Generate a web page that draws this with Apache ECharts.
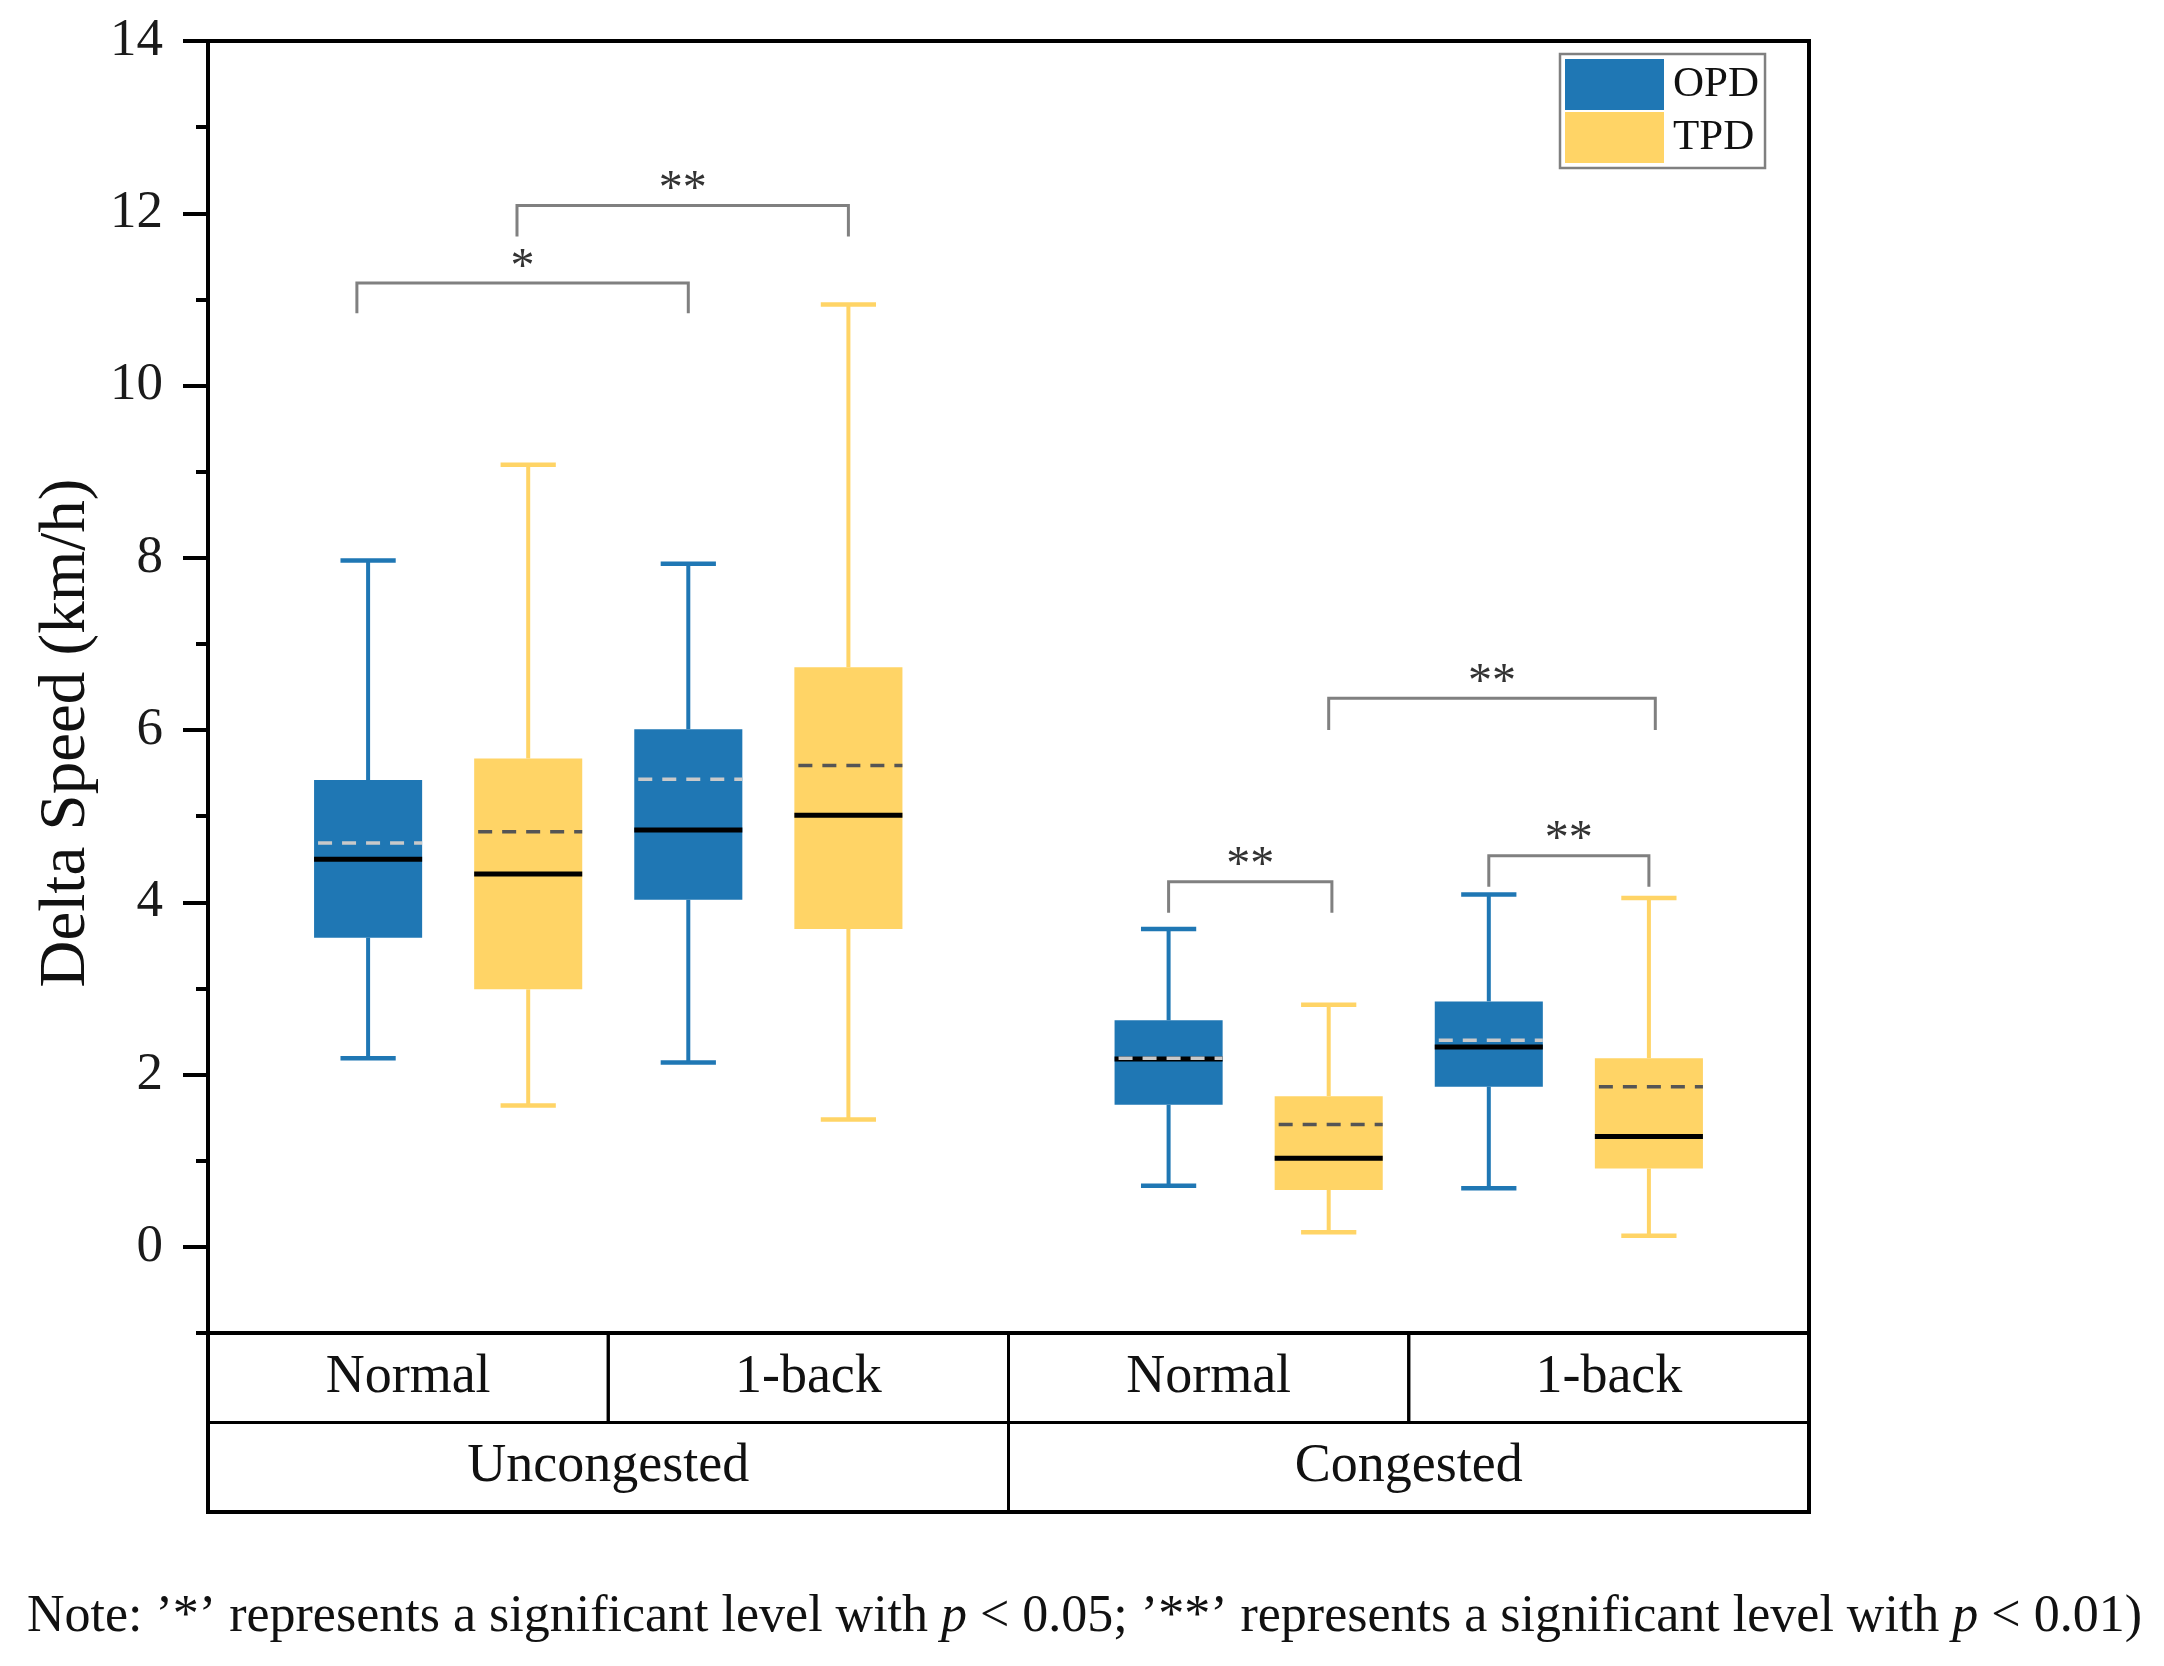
<!DOCTYPE html>
<html>
<head>
<meta charset="utf-8">
<script src="https://cdn.jsdelivr.net/npm/echarts@6/dist/echarts.min.js"></script>
<style>html,body{margin:0;padding:0;background:#fff}#c{width:2164px;height:1666px}</style>
</head>
<body>
<div id="c"></div>
<script>
// ---------- data ----------
const yTickLabels = [0, 2, 4, 6, 8, 10, 12, 14];
const yMinorTicks = [-1, 1, 3, 5, 7, 9, 11, 13];
const groups = ['Uncongested', 'Congested'];
const conditions = ['Normal', '1-back'];
const seriesNames = ['OPD', 'TPD'];
// order: Uncongested-Normal, Uncongested-1-back, Congested-Normal, Congested-1-back
const opdMin    = [2.19, 2.14, 0.71, 0.68];
const opdQ1     = [3.59, 4.03, 1.65, 1.86];
const opdMedian = [4.50, 4.84, 2.18, 2.32];
const opdQ3     = [5.42, 6.01, 2.63, 2.85];
const opdMax    = [7.97, 7.93, 3.69, 4.09];
const opdMean   = [4.69, 5.43, 2.19, 2.40];
const tpdMin    = [1.64, 1.48, 0.17, 0.13];
const tpdQ1     = [2.99, 3.69, 0.66, 0.91];
const tpdMedian = [4.33, 5.01, 1.03, 1.28];
const tpdQ3     = [5.67, 6.73, 1.75, 2.19];
const tpdMax    = [9.08, 10.94, 2.81, 4.05];
const tpdMean   = [4.82, 5.59, 1.42, 1.86];
// significance brackets (x in axis units along the box positions)
const sigX1     = [0.93, 1.93, 7.00, 6.00, 8.00];
const sigX2     = [3.00, 4.00, 9.04, 7.02, 9.00];
const sigTop    = [11.19, 12.09, 6.37, 4.24, 4.54];
const sigEnd    = [10.84, 11.73, 6.00, 3.88, 4.18];
const sigLabels = ['*', '**', '**', '**', '**'];

// ---------- layout helpers ----------
const FONT = "'Liberation Serif', 'Times New Roman', serif";
const BLUE = '#1f77b4', YELLOW = '#ffd466';
function boxX(g, c, s) { return g * 5 + c * 2 + s + 1; }

function buildBoxData(s, mn, q1, md, q3, mx, mean) {
  const out = [];
  for (let k = 0; k < 4; k++) {
    const g = Math.floor(k / 2), c = k % 2;
    out.push([boxX(g, c, s), mn[k], q1[k], md[k], q3[k], mx[k], mean[k]]);
  }
  return out;
}

function makeBoxRender(color, meanColor) {
  return function (params, api) {
    const x = api.value(0);
    const mn = api.value(1), q1 = api.value(2), md = api.value(3), q3 = api.value(4), mx = api.value(5), mean = api.value(6);
    const unit = api.size([1, 0])[0];
    const bw = unit * 0.675, cw = unit * 0.345;
    const cx = api.coord([x, md])[0];
    const yv = v => api.coord([x, v])[1];
    const L = cx - bw / 2, R = cx + bw / 2;
    return {
      type: 'group',
      children: [
        { type: 'line', shape: { x1: cx, y1: yv(q3), x2: cx, y2: yv(mx) }, style: { stroke: color, lineWidth: 4 } },
        { type: 'line', shape: { x1: cx, y1: yv(q1), x2: cx, y2: yv(mn) }, style: { stroke: color, lineWidth: 4 } },
        { type: 'line', shape: { x1: cx - cw / 2, y1: yv(mx), x2: cx + cw / 2, y2: yv(mx) }, style: { stroke: color, lineWidth: 4.5 } },
        { type: 'line', shape: { x1: cx - cw / 2, y1: yv(mn), x2: cx + cw / 2, y2: yv(mn) }, style: { stroke: color, lineWidth: 4.5 } },
        { type: 'rect', shape: { x: L, y: yv(q3), width: bw, height: yv(q1) - yv(q3) }, style: { fill: color } },
        { type: 'line', shape: { x1: L, y1: yv(md), x2: R, y2: yv(md) }, style: { stroke: '#000', lineWidth: 5 } },
        { type: 'line', shape: { x1: L + 4, y1: yv(mean), x2: R, y2: yv(mean) }, style: { stroke: meanColor, lineWidth: 3.5, lineDash: [14, 10] } }
      ]
    };
  };
}

const sigData = sigX1.map((x1, i) => [x1, sigX2[i], sigTop[i], sigEnd[i]]);

const tableLabels = conditions.concat(conditions).concat(groups);
const tableData = [];
for (let i = 0; i < 4; i++) tableData.push([i, i + 1, 1, 2]);
for (let g = 0; g < groups.length; g++) tableData.push([g * 2, g * 2 + 2, 0, 1]);

const chart = echarts.init(document.getElementById('c'));
chart.setOption({
  animation: false,
  backgroundColor: '#fff',
  title: {
    left: 22, top: 1586,
    text: '{a|Note: ’*’ represents a significant level with }{i|p}{a| < 0.05; ’**’ represents a significant level with }{i|p}{a| < 0.01)}',
    textStyle: {
      fontWeight: 'normal',
      rich: {
        a: { fontFamily: FONT, fontSize: 52, color: '#111', fontWeight: 'normal' },
        i: { fontFamily: FONT, fontSize: 52, color: '#111', fontStyle: 'italic', fontWeight: 'normal' }
      }
    }
  },
  legend: {
    data: seriesNames,
    orient: 'vertical',
    left: 1560, top: 54,
    icon: 'rect',
    itemWidth: 99, itemHeight: 51, itemGap: 2,
    padding: [5, 6, 5, 5],
    borderColor: '#808080', borderWidth: 2.5,
    textStyle: { fontFamily: FONT, fontSize: 43, color: '#111', padding: [0, 0, 0, 4] },
    selectedMode: false
  },
  grid: [
    { left: 208, top: 41, width: 1601, height: 1292, show: true, borderColor: '#000', borderWidth: 4 },
    { left: 208, top: 1333, width: 1601, height: 179, show: true, borderColor: '#000', borderWidth: 4 }
  ],
  xAxis: [
    { type: 'value', gridIndex: 0, min: 0, max: 10, show: false },
    { type: 'value', gridIndex: 1, min: 0, max: 4, show: false }
  ],
  yAxis: [
    {
      type: 'value', gridIndex: 0, min: -1, max: 14, position: 'left',
      name: 'Delta Speed (km/h)', nameLocation: 'middle', nameRotate: 90, nameGap: 93,
      nameTextStyle: { fontFamily: FONT, fontSize: 65, color: '#111', padding: [0, 92, 0, 0] },
      axisLine: { show: true, lineStyle: { color: '#000', width: 4 } },
      axisTick: { show: true, length: 25, customValues: yTickLabels, lineStyle: { color: '#000', width: 4 } },
      axisLabel: { customValues: yTickLabels, margin: 45, fontFamily: FONT, fontSize: 53, color: '#1a1a1a' },
      splitLine: { show: false }
    },
    {
      type: 'value', gridIndex: 0, min: -1, max: 14, position: 'left',
      axisLine: { show: false },
      axisTick: { show: true, length: 12, customValues: yMinorTicks, lineStyle: { color: '#000', width: 4 } },
      axisLabel: { show: false },
      splitLine: { show: false }
    },
    { type: 'value', gridIndex: 1, min: 0, max: 2, show: false }
  ],
  series: [
    {
      name: 'OPD', type: 'custom', xAxisIndex: 0, yAxisIndex: 0,
      itemStyle: { color: BLUE },
      encode: { x: 0, y: [1, 2, 3, 4, 5] },
      renderItem: makeBoxRender(BLUE, '#c9c9c9'),
      data: buildBoxData(0, opdMin, opdQ1, opdMedian, opdQ3, opdMax, opdMean),
      z: 3
    },
    {
      name: 'TPD', type: 'custom', xAxisIndex: 0, yAxisIndex: 0,
      itemStyle: { color: YELLOW },
      encode: { x: 0, y: [1, 2, 3, 4, 5] },
      renderItem: makeBoxRender(YELLOW, '#555'),
      data: buildBoxData(1, tpdMin, tpdQ1, tpdMedian, tpdQ3, tpdMax, tpdMean),
      z: 3
    },
    {
      name: 'significance', type: 'custom', xAxisIndex: 0, yAxisIndex: 0,
      encode: { x: [0, 1], y: [2, 3] },
      renderItem: function (params, api) {
        const x1 = api.value(0), x2 = api.value(1), top = api.value(2), end = api.value(3);
        const a = api.coord([x1, end]), b = api.coord([x1, top]), c = api.coord([x2, top]), d = api.coord([x2, end]);
        return {
          type: 'group',
          children: [
            { type: 'polyline', shape: { points: [a, b, c, d] }, style: { stroke: '#808080', lineWidth: 3, fill: null } },
            { type: 'text', style: { text: sigLabels[params.dataIndex], x: (b[0] + c[0]) / 2, y: b[1] - 15, align: 'center', verticalAlign: 'middle', fontFamily: FONT, fontSize: 48, fill: '#333' } }
          ]
        };
      },
      data: sigData,
      z: 4
    },
    {
      name: 'table', type: 'custom', xAxisIndex: 1, yAxisIndex: 2,
      encode: { x: [0, 1], y: [2, 3] },
      renderItem: function (params, api) {
        const p0 = api.coord([api.value(0), api.value(3)]);
        const p1 = api.coord([api.value(1), api.value(2)]);
        return {
          type: 'group',
          children: [
            { type: 'rect', shape: { x: p0[0], y: p0[1], width: p1[0] - p0[0], height: p1[1] - p0[1] }, style: { fill: null, stroke: '#000', lineWidth: 3 } },
            { type: 'text', style: { text: tableLabels[params.dataIndex], x: (p0[0] + p1[0]) / 2, y: (p0[1] + p1[1]) / 2, align: 'center', verticalAlign: 'middle', fontFamily: FONT, fontSize: 54, fill: '#111' } }
          ]
        };
      },
      data: tableData,
      z: 2
    }
  ]
});
</script>
</body>
</html>
